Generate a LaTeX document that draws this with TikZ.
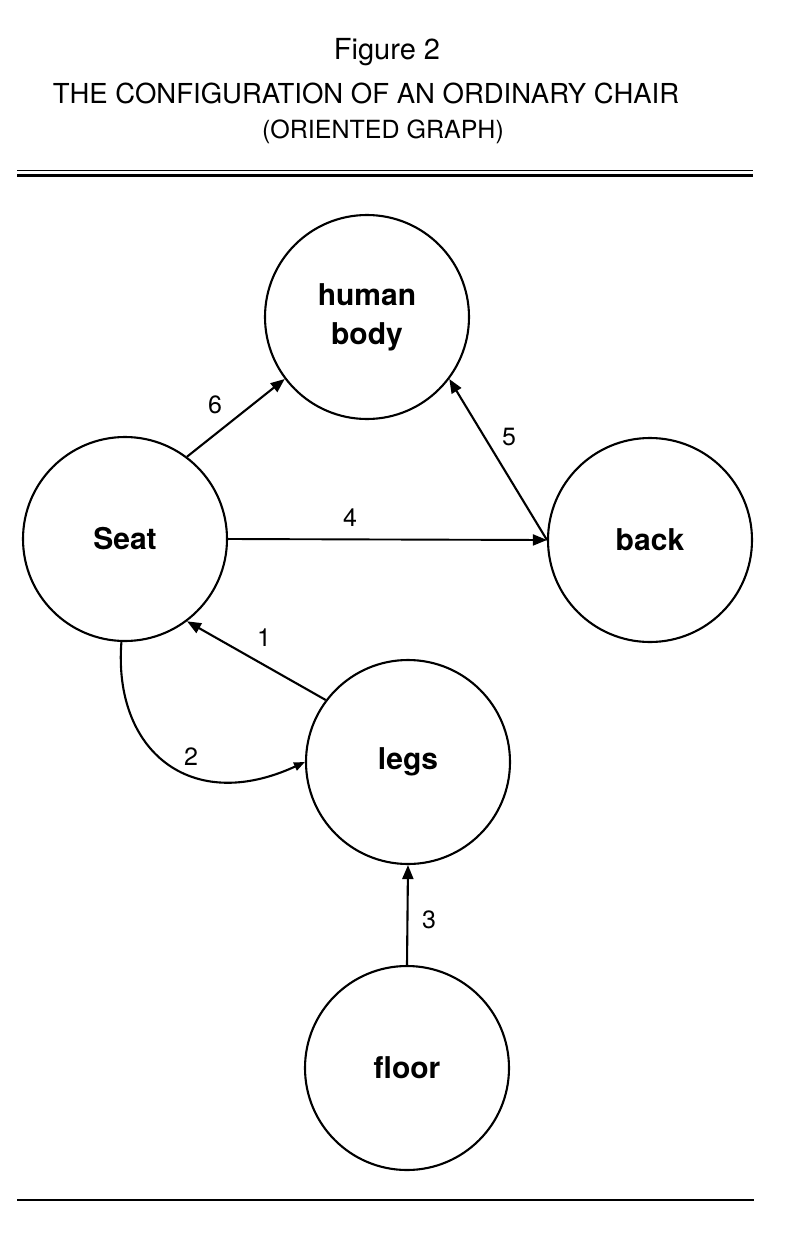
\documentclass[tikz,border=0pt]{standalone}
\usepackage{fontspec}
\setmainfont{TeX Gyre Heros}
\usetikzlibrary{arrows.meta}
\begin{document}
\begin{tikzpicture}[x=1pt,y=-1pt,
  vert/.style={circle,draw,line width=2.1pt,minimum size=204pt,inner sep=0pt,align=center,font=\fontsize{30}{39}\selectfont\bfseries},
  conn/.style={line width=2.1pt,-{Triangle[length=14pt,width=11pt]}},
  connsmall/.style={line width=2.1pt,-{Triangle[length=11pt,width=8.5pt]}},
  elabel/.style={font=\fontsize{25}{25}\selectfont,inner sep=0pt},
  ttl/.style={anchor=base,inner sep=0pt},
  rule/.style={line width=#1}]
\useasboundingbox (0,0) rectangle (802,1242);
% titles
\node[ttl,font=\fontsize{29}{29}\selectfont] (fig) at (387,59) {Figure 2};
\node[ttl,font=\fontsize{27.5}{27.5}\selectfont] (t1) at (366,103) {THE CONFIGURATION OF AN ORDINARY CHAIR};
\node[ttl,font=\fontsize{25}{25}\selectfont] (t2) at (383,138) {(ORIENTED GRAPH)};
% rules
\draw[rule=1.6pt] (17,170.5) -- (753,170.5);
\draw[rule=2.5pt] (17,175.5) -- (753,175.5);
\draw[rule=2.2pt] (17,1200) -- (754,1200);
% vertices
\node[vert] (hb) at (367,317) {human\\body};
\node[vert] (seat) at (125,539) {Seat};
\node[vert] (back) at (650,540) {back};
\node[vert] (legs) at (408,762) {legs};
\node[vert] (floor) at (407,1068) {floor};
% connectors
\draw[conn] (seat.53) -- (hb.217);
\draw[conn] (back.180) -- (hb.323);
\draw[conn,line width=1.9pt] (seat.0) -- (back.180);
\draw[conn] (legs.143) -- (seat.307);
\draw[connsmall] (seat.268) .. controls (113,750) and (190,815) .. (legs.180);
\draw[conn] (floor.90) -- (legs.270);
% edge labels
\node[elabel] (l6) at (215,405) {6};
\node[elabel] (l5) at (509,437) {5};
\node[elabel] (l4) at (350,518) {4};
\node[elabel] (l1) at (264,638) {1};
\node[elabel] (l2) at (191,757) {2};
\node[elabel] (l3) at (429,920) {3};
\end{tikzpicture}
\end{document}
